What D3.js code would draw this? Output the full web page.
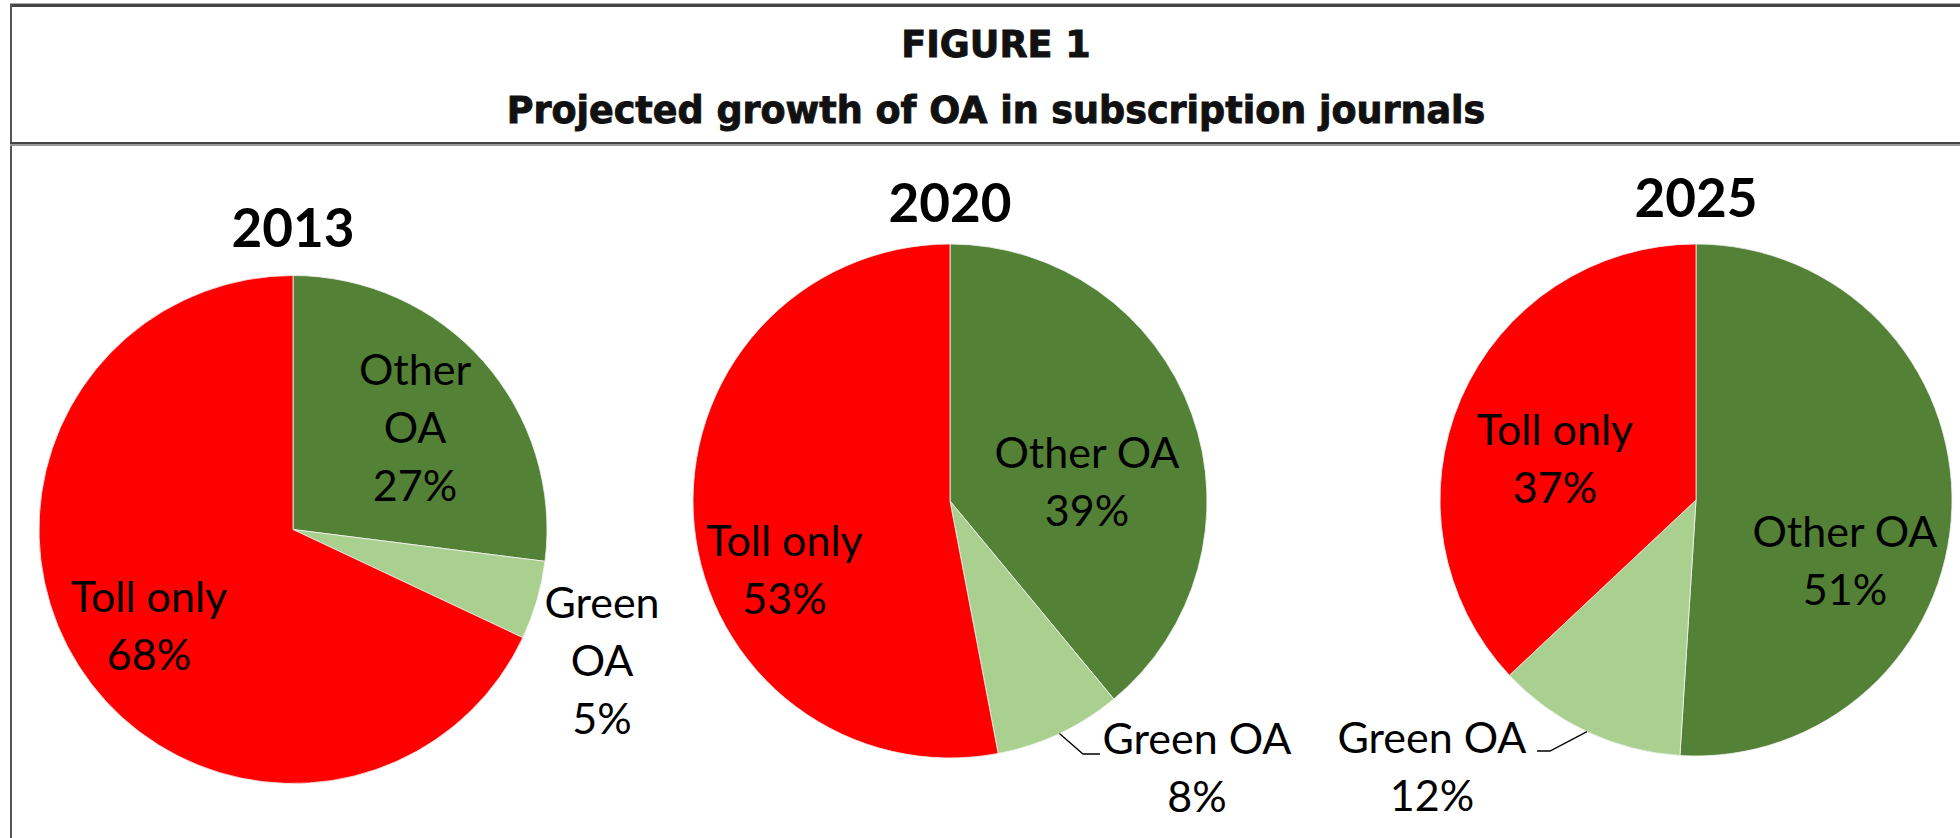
<!DOCTYPE html>
<html>
<head>
<meta charset="utf-8">
<script src="https://cdn.jsdelivr.net/npm/d3@7"></script>
<style>
  html, body { margin: 0; padding: 0; background: #fff; }
  svg { display: block; }
</style>
</head>
<body>
<svg id="chart" width="1960" height="838"></svg>
<script>
// Share of articles in subscription journals, by access type (percent)
const years = ["2013", "2020", "2025"];
const categories = ["Other OA", "Green OA", "Toll only"];
const otherOA = [27, 39, 51];
const greenOA = [5, 8, 12];
const tollOnly = [68, 53, 37];

const figureLabel = "FIGURE 1";
const figureTitle = "Projected growth of OA in subscription journals";

// Label text for each slice (line breaks per chart)
const labelLines = [
  { "Other OA": ["Other", "OA"], "Green OA": ["Green", "OA"], "Toll only": ["Toll only"] },
  { "Other OA": ["Other OA"], "Green OA": ["Green OA"], "Toll only": ["Toll only"] },
  { "Other OA": ["Other OA"], "Green OA": ["Green OA"], "Toll only": ["Toll only"] }
];

// ---- layout ----
const W = 1960, H = 838;
const pieLayout = [
  { cx: 293, cy: 529.5, r: 254, titleY: 247 },
  { cx: 950, cy: 501, r: 257, titleY: 222 },
  { cx: 1696, cy: 500, r: 256, titleY: 217 }
];
// label anchors relative to pie centre: centre x, first baseline y
const labelPos = [
  { "Other OA": [122, -144.5], "Green OA": [309, 88.5], "Toll only": [-144, 82.5] },
  { "Other OA": [137, -33], "Green OA": [247, 253], "Toll only": [-165.5, 54.6] },
  { "Other OA": [149, 47], "Green OA": [-264, 253], "Toll only": [-141, -55.5] }
];
// leader lines for the small slices: elbow and end relative to pie centre
const leaders = [
  null,
  { elbow: [133, 253], end: [150, 253] },
  { elbow: [-146, 251], end: [-159, 251] }
];
const lineGap = 58;

const color = d3.scaleOrdinal()
  .domain(categories)
  .range(["#538135", "#a9d08e", "#ff0000"]);

const svg = d3.select("#chart");
svg.append("rect").attr("width", W).attr("height", H).attr("fill", "#fff");

// frame rules
const frame = svg.append("g");
frame.append("rect").attr("x", 10).attr("y", 3).attr("width", W - 10).attr("height", 1).attr("fill", "#aaa");
frame.append("rect").attr("x", 10).attr("y", 4).attr("width", W - 10).attr("height", 3).attr("fill", "#444");
frame.append("rect").attr("x", 10).attr("y", 4).attr("width", 2).attr("height", H - 4).attr("fill", "#555");
frame.append("rect").attr("x", 10).attr("y", 142).attr("width", W - 10).attr("height", 2).attr("fill", "#444");
frame.append("rect").attr("x", 10).attr("y", 144).attr("width", W - 10).attr("height", 2).attr("fill", "#999");

// header
const header = svg.append("g")
  .attr("font-family", "'DejaVu Sans', sans-serif")
  .attr("font-weight", "bold")
  .attr("fill", "#111")
  .attr("stroke", "#111")
  .attr("stroke-width", 0.9)
  .attr("text-anchor", "middle");
header.append("text").attr("x", 996).attr("y", 57).attr("font-size", 36.5)
  .text(figureLabel);
header.append("text").attr("x", 996).attr("y", 123).attr("font-size", 36.5)
  .text(figureTitle);

const pie = d3.pie().sort(null).value(d => d.value);

years.forEach((year, i) => {
  const L = pieLayout[i];
  const data = [
    { cat: "Other OA", value: otherOA[i] },
    { cat: "Green OA", value: greenOA[i] },
    { cat: "Toll only", value: tollOnly[i] }
  ];
  const arcs = pie(data);
  const arc = d3.arc().innerRadius(0).outerRadius(L.r);

  const g = svg.append("g").attr("transform", `translate(${L.cx},${L.cy})`);

  g.selectAll("path.slice").data(arcs).join("path")
    .attr("class", "slice")
    .attr("d", arc)
    .attr("fill", d => color(d.data.cat))
    .attr("stroke", "#f2f2f2")
    .attr("stroke-width", 0.8);

  // year title
  svg.append("text")
    .attr("x", L.cx).attr("y", L.titleY)
    .attr("text-anchor", "middle")
    .attr("font-family", "Lato, sans-serif")
    .attr("font-weight", "bold")
    .attr("font-size", 53)
    .attr("fill", "#000")
    .text(year);

  // leader line for the green slice
  const ld = leaders[i];
  if (ld) {
    const a = arcs[1];
    const mid = (a.startAngle + a.endAngle) / 2;
    const start = [Math.sin(mid) * L.r, -Math.cos(mid) * L.r];
    g.append("path")
      .attr("d", d3.line()([start, ld.elbow, ld.end]))
      .attr("fill", "none")
      .attr("stroke", "#000")
      .attr("stroke-width", 1.3);
  }

  // slice labels
  arcs.forEach(a => {
    const cat = a.data.cat;
    const lines = labelLines[i][cat].concat([a.data.value + "%"]);
    const [lx, ly] = labelPos[i][cat];
    const t = g.append("text")
      .attr("text-anchor", "middle")
      .attr("font-family", "Lato, sans-serif")
      .attr("font-size", 43)
      .attr("fill", "#000");
    lines.forEach((s, k) => {
      t.append("tspan").attr("x", lx).attr("y", ly + k * lineGap).text(s);
    });
  });
});
</script>
</body>
</html>
